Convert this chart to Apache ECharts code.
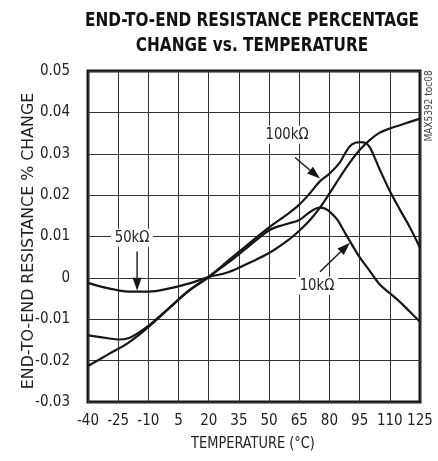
<!DOCTYPE html>
<html><head><meta charset="utf-8">
<script src="https://cdn.jsdelivr.net/npm/echarts@6/dist/echarts.min.js"></script>
<style>html,body{margin:0;padding:0;background:#fff}#c{width:438px;height:461px}</style>
</head><body><div id="c"></div>
<script>
const FONT = "'Liberation Sans Narrow','DejaVu Sans Condensed','Roboto Condensed',sans-serif";

// Temperature (°C) and % change values
const temps50k = [-40, -32, -25, -20, -10, 0, 10, 20, 30, 40, 50, 60, 65, 70, 75, 80, 85, 90, 95, 100, 105, 110, 115, 120, 125];
const vals50k  = [-0.0012, -0.0023, -0.0030, -0.0033, -0.0033, -0.0026, -0.0014, 0.0002, 0.0014, 0.0036, 0.0060, 0.0093, 0.0114, 0.0138, 0.0168, 0.0204, 0.0242, 0.0278, 0.0309, 0.0333, 0.0351, 0.0361, 0.0369, 0.0377, 0.0385];

const temps10k = [-40, -30, -25, -20, -15, -10, 0, 10, 20, 30, 40, 50, 55, 60, 65, 70, 75, 78, 81, 84, 87, 90, 95, 100, 105, 110, 115, 120, 125];
const vals10k  = [-0.0139, -0.0146, -0.0149, -0.0146, -0.0133, -0.0116, -0.0074, -0.0031, 0.0003, 0.0038, 0.0077, 0.0115, 0.0125, 0.0132, 0.0140, 0.0158, 0.0170, 0.0167, 0.0156, 0.0140, 0.0115, 0.0090, 0.0050, 0.0017, -0.0016, -0.0037, -0.0058, -0.0082, -0.0106];

const temps100k = [-40, -30, -20, -10, 0, 10, 20, 30, 40, 50, 60, 65, 70, 75, 80, 85, 88, 91, 95, 98, 100, 102, 105, 110, 115, 120, 125];
const vals100k  = [-0.0213, -0.0185, -0.0157, -0.0119, -0.0075, -0.0032, 0.0002, 0.0043, 0.0083, 0.0122, 0.0157, 0.0177, 0.0203, 0.0232, 0.0252, 0.0278, 0.0303, 0.0322, 0.0328, 0.0326, 0.0316, 0.0296, 0.0262, 0.0210, 0.0165, 0.0122, 0.0073];

const xTickLabels = ['-40', '-25', '-10', '5', '20', '35', '50', '65', '80', '95', '110', '125'];
const X_OFFSET = 40; // axis runs 0..165 internally so ticks start at a multiple of 15

const curveLabels = [
  {text: '100kΩ', t: 58.9, v: 0.0346},
  {text: '50kΩ', t: -18.1, v: 0.0097},
  {text: '10kΩ', t: 73.8, v: -0.0019}
];
const arrows = [
  {from: [62.9, 0.0291], to: [75.3, 0.0240]},
  {from: [-15.6, 0.0064], to: [-15.6, -0.0031]},
  {from: [75.3, 0.0015], to: [90.2, 0.0085]}
];

const chart = echarts.init(document.getElementById('c'), null, {renderer: 'canvas'});

function mk(temps, vals) { return temps.map((t, i) => [t + X_OFFSET, vals[i]]); }
function lineSeries(name, temps, vals) {
  return {
    name, type: 'line', data: mk(temps, vals), showSymbol: false, smooth: 0.35,
    lineStyle: {color: '#161616', width: 2.2}, silent: true, animation: false, z: 3
  };
}

chart.setOption({
  animation: false,
  grid: {left: 88, right: 18, top: 71, bottom: 59, show: true, borderColor: '#161616', borderWidth: 3, backgroundColor: 'transparent'},
  xAxis: {
    type: 'value', min: 0, max: 165, interval: 15,
    axisLine: {show: false}, axisTick: {show: false},
    splitLine: {show: true, lineStyle: {color: '#333', width: 1}},
    axisLabel: {
      margin: 12, color: '#222', fontFamily: FONT, fontSize: 15,
      formatter: v => xTickLabels[Math.round(v / 15)] ?? ''
    }
  },
  yAxis: {
    type: 'value', min: -0.03, max: 0.05, interval: 0.01,
    axisLine: {show: false}, axisTick: {show: false},
    splitLine: {show: true, lineStyle: {color: '#333', width: 1}},
    axisLabel: {
      margin: 18, color: '#222', fontFamily: FONT, fontSize: 15,
      formatter: v => String(Number(v.toFixed(2)))
    }
  },
  series: [
    lineSeries('50kΩ', temps50k, vals50k),
    lineSeries('10kΩ', temps10k, vals10k),
    lineSeries('100kΩ', temps100k, vals100k)
  ]
});

function px(t, v) { return chart.convertToPixel({gridIndex: 0}, [t + X_OFFSET, v]); }

const g = [];
g.push({type: 'text', x: 252, y: 8, z: 10, scaleX: 0.85, style: {
  text: 'END-TO-END RESISTANCE PERCENTAGE\nCHANGE vs. TEMPERATURE',
  font: 'bold 20px ' + FONT, fill: '#111', textAlign: 'center', lineHeight: 25
}});
g.push({type: 'text', x: 29, y: 241, rotation: Math.PI / 2, z: 10, scaleX: 1.1, style: {
  text: 'END-TO-END RESISTANCE % CHANGE', font: '16px ' + FONT, fill: '#222',
  textAlign: 'center', textVerticalAlign: 'middle'
}});
g.push({type: 'text', x: 253, y: 444, z: 10, scaleX: 0.9, style: {
  text: 'TEMPERATURE (°C)', font: '16px ' + FONT, fill: '#222',
  textAlign: 'center', textVerticalAlign: 'middle'
}});
g.push({type: 'text', x: 429, y: 106, rotation: Math.PI / 2, z: 10, style: {
  text: 'MAX5392 toc08', font: '10px ' + FONT, fill: '#444',
  textAlign: 'center', textVerticalAlign: 'middle'
}});

curveLabels.forEach(l => {
  const p = px(l.t, l.v);
  g.push({type: 'text', x: p[0], y: p[1], z: 20, scaleX: 0.92, style: {
    text: l.text, font: '16px ' + FONT, fill: '#222', textAlign: 'center', textVerticalAlign: 'middle',
    backgroundColor: '#fff', padding: [1, 4, 1, 4]
  }});
});

arrows.forEach(a => {
  const p1 = px(a.from[0], a.from[1]);
  const p2 = px(a.to[0], a.to[1]);
  const dx = p2[0] - p1[0], dy = p2[1] - p1[1];
  const len = Math.hypot(dx, dy);
  const ux = dx / len, uy = dy / len;
  const hl = 13, hw = 4.5;
  const bx = p2[0] - ux * hl, by = p2[1] - uy * hl;
  g.push({type: 'line', z: 20, shape: {x1: p1[0], y1: p1[1], x2: bx, y2: by}, style: {stroke: '#161616', lineWidth: 1.4}});
  g.push({type: 'polygon', z: 20, shape: {points: [
    [p2[0], p2[1]], [bx - uy * hw, by + ux * hw], [bx + uy * hw, by - ux * hw]
  ]}, style: {fill: '#161616'}});
});

chart.setOption({graphic: g});
</script>
</body></html>
